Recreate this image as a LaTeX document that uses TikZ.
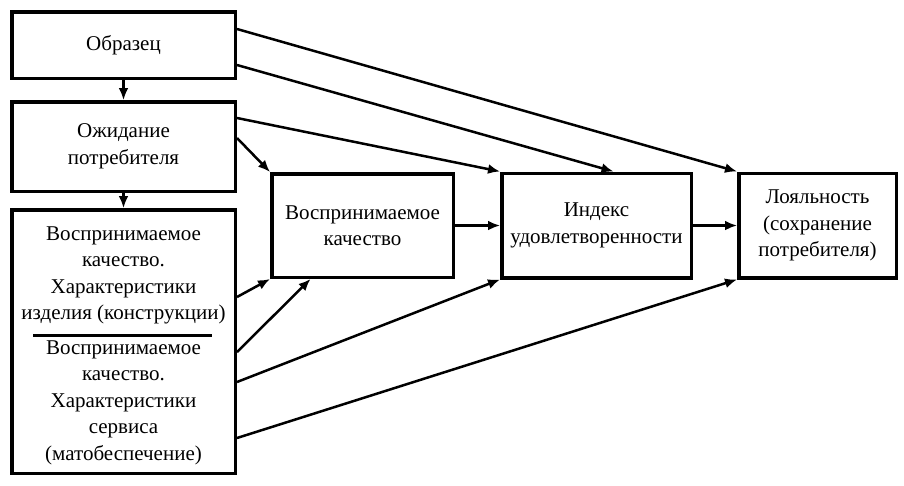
\documentclass[tikz,border=0pt]{standalone}
\usepackage{fontspec}
\setmainfont{Liberation Serif}
\usetikzlibrary{positioning,arrows.meta}
\tikzstyle{box} = [rectangle, draw=black, line width=3.5pt, align=center, inner sep=2pt, font=\fontsize{21}{26.5}\selectfont]
\tikzstyle{txt} = [align=center, inner sep=0pt, font=\fontsize{21}{26.5}\selectfont]
\tikzstyle{arrow} = [line width=2.5pt,->,>={Latex[length=12pt,width=10pt]}]
\begin{document}
\begin{tikzpicture}[x=1pt,y=-1pt]
    \useasboundingbox (0,0) rectangle (904,485);
    \node (obr) [box, minimum width=223.5pt, minimum height=66.5pt] at (123.5,45) {Образец};
    \node (ozh) [box, minimum width=223.5pt, minimum height=89.5pt, below=20pt of obr] {Ожидание\\потребителя};
    \node (perc) [box, minimum width=223.5pt, minimum height=263.5pt, below=15pt of ozh] {};
    \node (percA) [txt] at ([yshift=66pt]perc.center) {Воспринимаемое\\качество.\\Характеристики\\изделия (конструкции)};
    \node (percB) [txt] at ([yshift=-61pt]perc.center) {Воспринимаемое\\качество.\\Характеристики\\сервиса\\(матобеспечение)};
    \draw [line width=3pt] ([xshift=-90.5pt,yshift=6.5pt]perc.center) -- ([xshift=88.5pt,yshift=6.5pt]perc.center);
    \node (vk) [box, minimum width=181.5pt, minimum height=103.5pt] at (362.5,225.5) {Воспринимаемое\\качество};
    \node (idx) [box, minimum width=189.5pt, minimum height=104.5pt, right=45pt of vk] {Индекс\\удовлетворенности};
    \node (loy) [box, minimum width=157.5pt, minimum height=104.5pt, right=44pt of idx] {Лояльность\\(сохранение\\потребителя)};
    % vertical chain
    \draw [arrow] (obr.south) -- (ozh.north);
    \draw [arrow] (ozh.south) -- (perc.north);
    % long links
    \draw [arrow] ([yshift=16pt]obr.east) -- (loy.north west);
    \draw [arrow] ([yshift=-20pt]obr.east) -- ([xshift=17pt]idx.north);
    \draw [arrow] ([yshift=28.5pt]ozh.east) -- (idx.north west);
    \draw [arrow] ([yshift=8.5pt]ozh.east) -- (vk.north west);
    \draw [arrow] ([yshift=44.5pt]perc.east) -- (vk.south west);
    \draw [arrow] ([yshift=-10.5pt]perc.east) -- ([xshift=-52pt]vk.south);
    \draw [arrow] ([yshift=-40.5pt]perc.east) -- (idx.south west);
    \draw [arrow] ([yshift=-96.5pt]perc.east) -- (loy.south west);
    % main row
    \draw [arrow] (vk.east) -- (vk.east -| idx.west);
    \draw [arrow] (idx.east) -- (idx.east -| loy.west);
\end{tikzpicture}
\end{document}
